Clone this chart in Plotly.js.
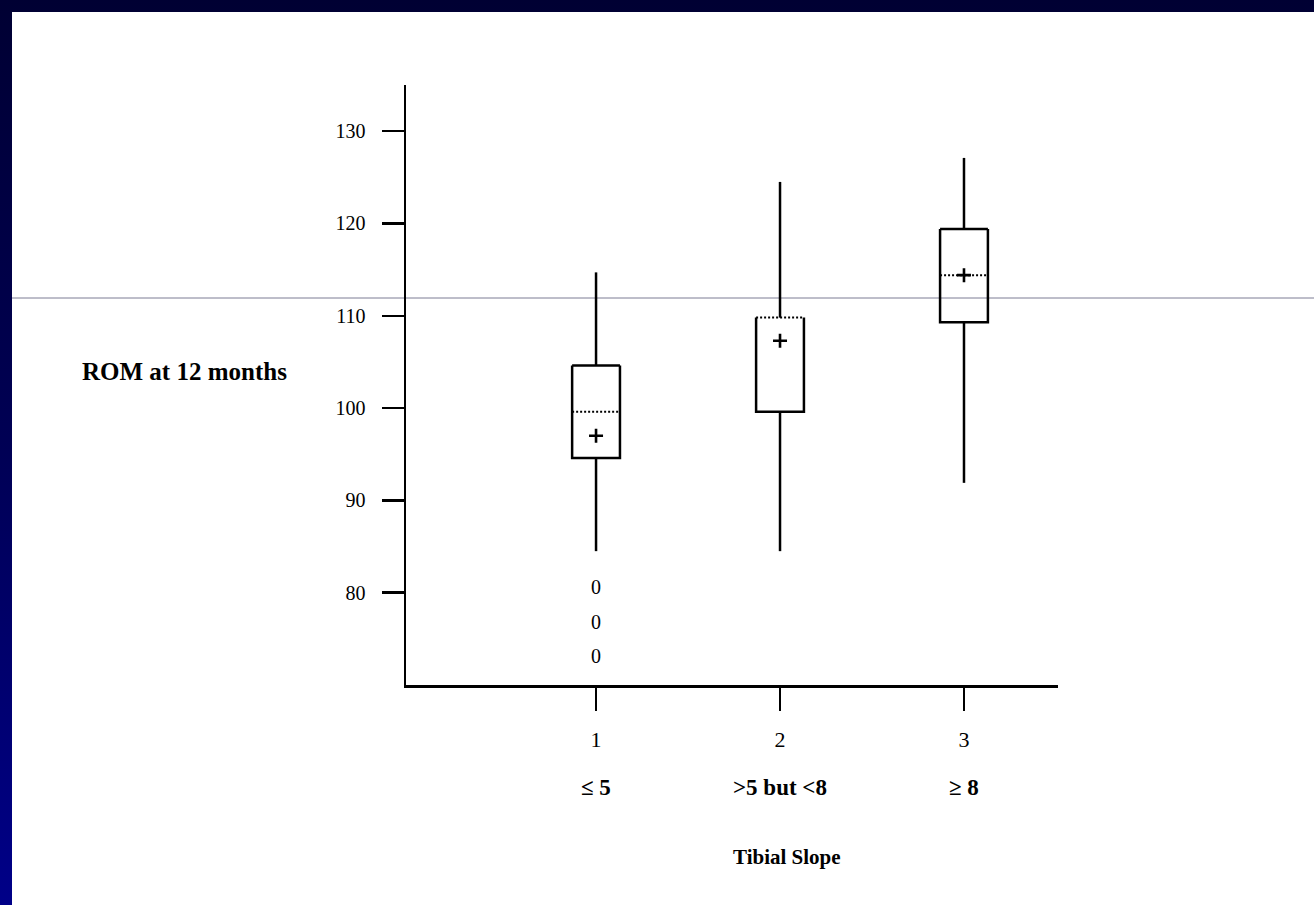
<!DOCTYPE html>
<html>
<head>
<meta charset="utf-8">
<script src="https://cdn.plot.ly/plotly-3.0.1.min.js"></script>
<style>
  html, body { margin: 0; padding: 0; width: 1314px; height: 905px; overflow: hidden;
    background: linear-gradient(to bottom, #000033 0%, #000055 50%, #000088 100%); }
  #chart { position: absolute; left: 12px; top: 12px; width: 1302px; height: 893px; background: #ffffff; }
</style>
</head>
<body>
<div id="chart"></div>
<script>
// ---- data ----
const categories = [1, 2, 3];
const tickLabels = ['1', '2', '3'];
const groupLabels = ['\u2264 5', '>5 but <8', '\u2265 8'];
const q1 = [94.6, 99.6, 109.3];
const median = [99.6, 109.8, 114.4];
const q3 = [104.6, 109.8, 119.4];
const lowerWhisker = [84.5, 84.5, 91.9];
const upperWhisker = [114.7, 124.5, 127.1];
const means = [97.0, 107.3, 114.4];
const outlierGroup = [1, 1, 1];
const outlierValues = [80.4, 76.6, 72.9];

// ---- build marks ----
const half = 0.13;
const serif = 'Liberation Serif, Times New Roman, serif';

const wx = [], wy = [];
const bx = [], by = [];
const mx = [], my = [];
categories.forEach((c, i) => {
  wx.push(c, c, null, c, c, null);
  wy.push(q3[i], upperWhisker[i], null, q1[i], lowerWhisker[i], null);
  // open-top box outline
  bx.push(c - half, c - half, c + half, c + half, null);
  by.push(q3[i], q1[i], q1[i], q3[i], null);
  if (q3[i] > median[i]) {
    bx.push(c - half, c + half, null);
    by.push(q3[i], q3[i], null);
  }
  mx.push(c - half, c + half, null);
  my.push(median[i], median[i], null);
});

const traces = [
  { type: 'scatter', mode: 'lines', x: wx, y: wy, line: { color: '#000', width: 2.5 }, hoverinfo: 'skip', showlegend: false },
  { type: 'scatter', mode: 'lines', x: bx, y: by, line: { color: '#000', width: 2.5 }, hoverinfo: 'skip', showlegend: false },
  { type: 'scatter', mode: 'lines', x: mx, y: my, line: { color: '#000', width: 2, dash: '2px,2px' }, hoverinfo: 'skip', showlegend: false },
  { type: 'scatter', mode: 'markers', x: categories, y: means,
    marker: { symbol: 'cross-thin', size: 10, color: '#000', line: { color: '#000', width: 2.6 } }, showlegend: false },
  { type: 'scatter', mode: 'text', x: outlierGroup, y: outlierValues, text: outlierValues.map(() => '0'),
    textposition: 'middle center', textfont: { family: serif, size: 20, color: '#000' }, showlegend: false }
];

const annotations = categories.map((c, i) => ({
  xref: 'x', yref: 'paper', x: c, y: -0.17, text: '<b>' + groupLabels[i] + '</b>',
  showarrow: false, xanchor: 'center', yanchor: 'middle', font: { family: serif, size: 23, color: '#000' }
}));
annotations.push({
  xref: 'paper', yref: 'paper', x: 0.584, y: -0.287, text: '<b>Tibial Slope</b>', showarrow: false,
  xanchor: 'center', yanchor: 'middle', font: { family: serif, size: 21, color: '#000' }
});
annotations.push({
  xref: 'paper', yref: 'paper', x: -0.339, y: 0.523, text: '<b>ROM at 12 months</b>', showarrow: false,
  xanchor: 'center', yanchor: 'middle', font: { family: serif, size: 25, color: '#000' }
});

const layout = {
  width: 1302, height: 893,
  margin: { l: 394, r: 256, t: 73, b: 220, pad: 0 },
  paper_bgcolor: '#ffffff',
  plot_bgcolor: 'rgba(0,0,0,0)',
  showlegend: false,
  xaxis: {
    range: [-0.033, 3.511], showgrid: false, zeroline: false,
    showline: true, linecolor: '#000', linewidth: 2.5,
    tickmode: 'array', tickvals: categories, ticktext: tickLabels,
    ticks: 'outside', ticklen: 23, tickwidth: 2.5, tickcolor: '#000',
    ticklabelstandoff: 10,
    tickfont: { family: serif, size: 22, color: '#000' }
  },
  yaxis: {
    range: [70, 135], showgrid: false, zeroline: false,
    showline: true, linecolor: '#000', linewidth: 2.5,
    tickmode: 'array', tickvals: [80, 90, 100, 110, 120, 130],
    ticks: 'outside', ticklen: 22, tickwidth: 2.5, tickcolor: '#000',
    ticklabelstandoff: 12,
    tickfont: { family: serif, size: 20, color: '#000' }
  },
  shapes: [{
    type: 'line', xref: 'paper', yref: 'paper', x0: -0.61, x1: 1.40, y0: 0.645, y1: 0.645,
    line: { color: '#7c7c94', width: 1 }, layer: 'below'
  }],
  annotations: annotations
};

Plotly.newPlot('chart', traces, layout, { displayModeBar: false, staticPlot: true });
</script>
</body>
</html>
